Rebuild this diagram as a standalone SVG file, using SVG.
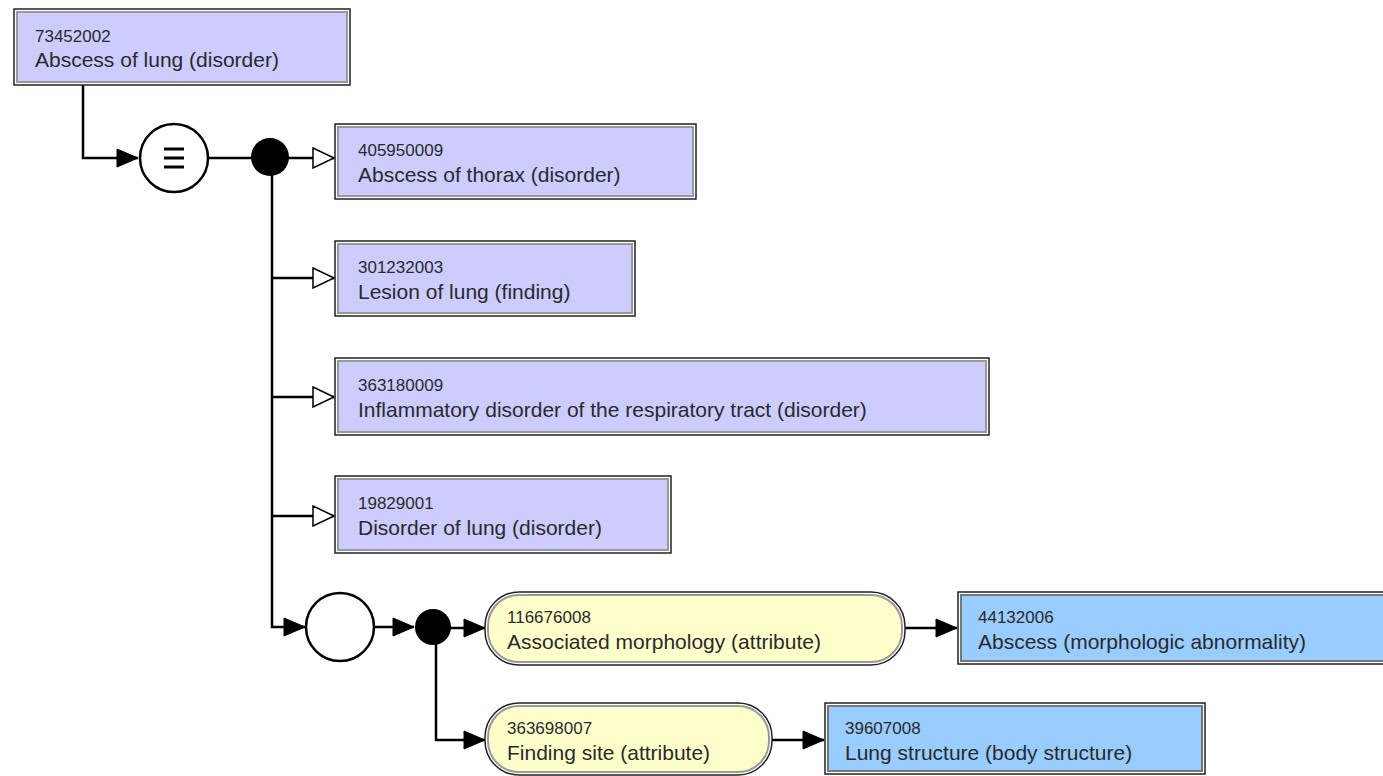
<svg xmlns="http://www.w3.org/2000/svg" width="1383" height="776" viewBox="0 0 1383 776">
<style>
.o{fill:none;stroke:#222;stroke-width:1.5}
.pc{fill:#ccccff;stroke:#999;stroke-width:2}
.bc{fill:#99ccff;stroke:#777;stroke-width:2}
.yc{fill:#ffffcc;stroke:#999;stroke-width:2}
.id{font-family:"Liberation Sans",Arial,sans-serif;font-size:17px;fill:#2a2a2a}
.nm{font-family:"Liberation Sans",Arial,sans-serif;font-size:21px;fill:#2a2a2a}
.ln{fill:none;stroke:#000;stroke-width:2.5}
</style>
<defs>
<marker id="open" markerWidth="24" markerHeight="22" refX="22" refY="11" orient="auto" markerUnits="userSpaceOnUse">
<path d="M1,1 L22,11 L1,21 Z" fill="#fff" stroke="#000" stroke-width="1.5"/>
</marker>
<marker id="fill" markerWidth="24" markerHeight="22" refX="22" refY="11" orient="auto" markerUnits="userSpaceOnUse">
<path d="M1,2 L22,11 L1,20 Z" fill="#000" stroke="#000" stroke-width="1"/>
</marker>
</defs>
<rect width="1383" height="776" fill="#fff"/>
<g id="connectors">
<path class="ln" d="M83,85 V158 H138" marker-end="url(#fill)"/>
<path class="ln" d="M208,158 H252"/>
<path class="ln" d="M288,158 H334" marker-end="url(#open)"/>
<path class="ln" d="M272,158 V627 H305" marker-end="url(#fill)"/>
<path class="ln" d="M272,278 H334" marker-end="url(#open)"/>
<path class="ln" d="M272,397 H334" marker-end="url(#open)"/>
<path class="ln" d="M272,516 H334" marker-end="url(#open)"/>
<path class="ln" d="M374,627 H414" marker-end="url(#fill)"/>
<path class="ln" d="M450,628 H485" marker-end="url(#fill)"/>
<path class="ln" d="M436,628 V740 H485" marker-end="url(#fill)"/>
<path class="ln" d="M905,628 H957" marker-end="url(#fill)"/>
<path class="ln" d="M772,740 H824" marker-end="url(#fill)"/>
</g>
<g id="n73452002">
<rect class="o" x="14" y="9" width="336" height="76"/>
<rect class="pc" x="17" y="12" width="330" height="70"/>
<text class="id" x="35" y="42">73452002</text>
<text class="nm" x="35" y="67">Abscess of lung (disorder)</text>
</g>
<g id="eq1">
<circle cx="174" cy="158" r="34" fill="#fff" stroke="#000" stroke-width="2.5"/>
<path d="M164,149 H184 M164,158 H184 M164,167 H184" stroke="#000" stroke-width="3"/>
</g>
<g id="dot1"><circle cx="270" cy="157" r="19" fill="#000"/></g>
<g id="n405950009">
<rect class="o" x="335" y="124" width="361" height="75"/>
<rect class="pc" x="338" y="127" width="355" height="69"/>
<text class="id" x="358" y="156">405950009</text>
<text class="nm" x="358" y="182">Abscess of thorax (disorder)</text>
</g>
<g id="n301232003">
<rect class="o" x="335" y="241" width="300" height="75"/>
<rect class="pc" x="338" y="244" width="294" height="69"/>
<text class="id" x="358" y="273">301232003</text>
<text class="nm" x="358" y="299">Lesion of lung (finding)</text>
</g>
<g id="n363180009">
<rect class="o" x="335" y="358" width="654" height="77"/>
<rect class="pc" x="338" y="361" width="648" height="71"/>
<text class="id" x="358" y="391">363180009</text>
<text class="nm" x="358" y="417">Inflammatory disorder of the respiratory tract (disorder)</text>
</g>
<g id="n19829001">
<rect class="o" x="335" y="476" width="336" height="77"/>
<rect class="pc" x="338" y="479" width="330" height="71"/>
<text class="id" x="358" y="509">19829001</text>
<text class="nm" x="358" y="535">Disorder of lung (disorder)</text>
</g>
<g id="grp1"><circle cx="340" cy="627" r="34" fill="#fff" stroke="#000" stroke-width="2.5"/></g>
<g id="dot2"><circle cx="433" cy="627" r="18" fill="#000"/></g>
<g id="n116676008">
<rect class="o" x="485" y="592" width="420" height="73" rx="34"/>
<rect class="yc" x="488" y="595" width="414" height="67" rx="31"/>
<text class="id" x="507" y="623">116676008</text>
<text class="nm" x="507" y="649">Associated morphology (attribute)</text>
</g>
<g id="n44132006">
<rect class="o" x="958" y="592" width="430" height="72"/>
<rect class="bc" x="961" y="595" width="430" height="66"/>
<text class="id" x="978" y="623">44132006</text>
<text class="nm" x="978" y="649">Abscess (morphologic abnormality)</text>
</g>
<g id="n363698007">
<rect class="o" x="485" y="703" width="287" height="72" rx="34"/>
<rect class="yc" x="488" y="706" width="281" height="66" rx="31"/>
<text class="id" x="507" y="734">363698007</text>
<text class="nm" x="507" y="760">Finding site (attribute)</text>
</g>
<g id="n39607008">
<rect class="o" x="825" y="703" width="380" height="71"/>
<rect class="bc" x="828" y="706" width="374" height="65"/>
<text class="id" x="845" y="734">39607008</text>
<text class="nm" x="845" y="760">Lung structure (body structure)</text>
</g>
</svg>
